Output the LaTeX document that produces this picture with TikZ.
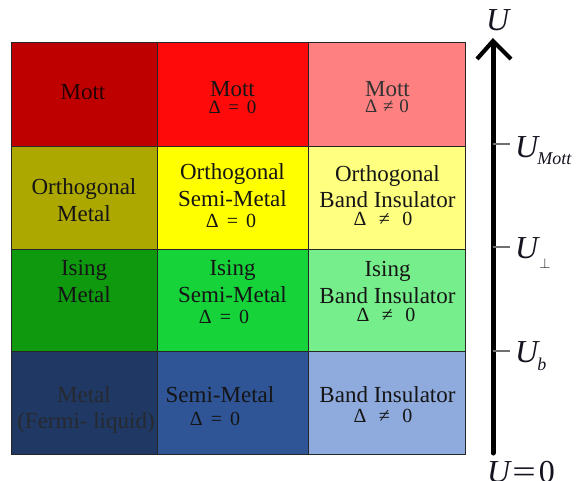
\documentclass[tikz,border=0pt]{standalone}
\usepackage{fontspec}
\usepackage{graphicx}
\setmainfont{Liberation Serif}
\definecolor{c11}{HTML}{BE0000}
\definecolor{c12}{HTML}{FF0A0A}
\definecolor{c13}{HTML}{FF8080}
\definecolor{c21}{HTML}{ADA800}
\definecolor{c22}{HTML}{FFFF00}
\definecolor{c23}{HTML}{FFFF80}
\definecolor{c31}{HTML}{0E990E}
\definecolor{c32}{HTML}{16D33A}
\definecolor{c33}{HTML}{77EE8C}
\definecolor{c41}{HTML}{203864}
\definecolor{c42}{HTML}{2F5597}
\definecolor{c43}{HTML}{8FAADC}
\definecolor{txt}{HTML}{151515}
\definecolor{dimtxt}{HTML}{262a30}
\definecolor{tickgray}{HTML}{707070}
\definecolor{axtxt}{HTML}{141420}
\tikzset{
  cell/.style={draw=black!85, line width=0.8pt, inner sep=0pt, rectangle},
  lbl/.style={font=\fontsize{23}{27}\selectfont, anchor=base, inner sep=0pt, text=txt},
  dl/.style={font=\fontsize{20}{22}\selectfont, anchor=base, inner sep=0pt, text=txt},
  dls/.style={font=\fontsize{19}{22}\selectfont, anchor=base, inner sep=0pt, text=txt},
  axlbl/.style={font=\fontsize{32}{36}\selectfont\itshape, anchor=base west, inner sep=0pt, text=axtxt},
  tickline/.style={draw=tickgray, line width=1.3pt},
}
\newcommand{\subsz}{\fontsize{18}{18}\selectfont}
\newcommand{\deq}{Δ\hspace{0.4em}=\hspace{0.4em}0}
\newcommand{\dneq}{Δ\hspace{0.62em}≠\hspace{0.62em}0}
\begin{document}
\begin{tikzpicture}[x=1pt,y=-1pt]
\useasboundingbox (0,0) rectangle (579,480);
% cells
\node[cell, fill=c11, minimum width=146pt, minimum height=104pt] (r1a) at (84,94) {};
\node[cell, fill=c12, minimum width=151pt, minimum height=104pt] (r1b) at (232.5,94) {};
\node[cell, fill=c13, minimum width=157pt, minimum height=104pt] (r1c) at (386.5,94) {};
\node[cell, fill=c21, minimum width=146pt, minimum height=103pt] (r2a) at (84,197.5) {};
\node[cell, fill=c22, minimum width=151pt, minimum height=103pt] (r2b) at (232.5,197.5) {};
\node[cell, fill=c23, minimum width=157pt, minimum height=103pt] (r2c) at (386.5,197.5) {};
\node[cell, fill=c31, minimum width=146pt, minimum height=102pt] (r3a) at (84,300) {};
\node[cell, fill=c32, minimum width=151pt, minimum height=102pt] (r3b) at (232.5,300) {};
\node[cell, fill=c33, minimum width=157pt, minimum height=102pt] (r3c) at (386.5,300) {};
\node[cell, fill=c41, minimum width=146pt, minimum height=103pt] (r4a) at (84,402.5) {};
\node[cell, fill=c42, minimum width=151pt, minimum height=103pt] (r4b) at (232.5,402.5) {};
\node[cell, fill=c43, minimum width=157pt, minimum height=103pt] (r4c) at (386.5,402.5) {};
% row 1
\node[lbl, text=black!80!c11] (t11a) at (83,99) {Mott};
\node[lbl] (t12a) at (232.5,96) {Mott};
\node[dls] (t12b) at (232.5,113) {\deq};
\node[lbl, text=black!80] (t13a) at (387.5,96) {Mott};
\node[dls, text=black!80] (t13b) at (387,112) {Δ\hspace{0.3em}≠\hspace{0.3em}0};
% row 2
\node[lbl] (t21a) at (84,194) {Orthogonal};
\node[lbl] (t21b) at (84,221) {Metal};
\node[lbl] (t22a) at (232.5,179) {Orthogonal};
\node[lbl] (t22b) at (232.5,206) {Semi-Metal};
\node[dl] (t22c) at (231,227) {\deq};
\node[lbl] (t23a) at (387.5,181) {Orthogonal};
\node[lbl] (t23b) at (387.5,207) {Band Insulator};
\node[dl] (t23c) at (383,225) {\dneq};
% row 3
\node[lbl] (t31a) at (84,275) {Ising};
\node[lbl] (t31b) at (84,302) {Metal};
\node[lbl] (t32a) at (232.5,275) {Ising};
\node[lbl] (t32b) at (232.5,302) {Semi-Metal};
\node[dl] (t32c) at (224,323) {\deq};
\node[lbl] (t33a) at (387.5,276) {Ising};
\node[lbl] (t33b) at (387.5,303) {Band Insulator};
\node[dl] (t33c) at (386,321) {\dneq};
% row 4
\node[lbl, text=dimtxt] (t41a) at (84,402) {Metal};
\node[lbl, text=dimtxt] (t41b) at (86,428) {(Fermi- liquid)};
\node[lbl] (t42a) at (220,402) {Semi-Metal};
\node[dl] (t42b) at (215,425) {\deq};
\node[lbl] (t43a) at (387.5,402) {Band Insulator};
\node[dl] (t43b) at (383,422) {\dneq};
% axis
\coordinate (axbot) at (493,453);
\coordinate (axtop) at (493,41);
\coordinate (hl) at (477,59);
\coordinate (hr) at (511,59);
\draw[line width=5pt, line cap=round] (axbot) -- (493,44);
\draw[line width=4.2pt, line join=miter] (hl) -- (axtop) -- (hr);
\coordinate (k1) at (493,144);
\coordinate (k2) at (493,247);
\coordinate (k3) at (493,351);
\draw[tickline] (k1) -- ++(17,0);
\draw[tickline] (k2) -- ++(17,0);
\draw[tickline] (k3) -- ++(17,0);
\node[axlbl] (uTop) at (486,30) {U};
\node[axlbl] (uMott) at (515,157) {U\kern-1pt\raisebox{-7pt}{\subsz Mott}};
\node[axlbl] (uPerp) at (515,258) {U\kern1pt\raisebox{-10pt}{\fontsize{15}{15}\selectfont$\perp$}};
\node[axlbl] (uB) at (515,362) {U\kern-1pt\raisebox{-8pt}{\subsz b}};
\node[axlbl] (uZero) at (487,482) {U\kern2pt\upshape\scalebox{1.3}[1.0]{=}\kern3pt0};
\end{tikzpicture}
\end{document}
